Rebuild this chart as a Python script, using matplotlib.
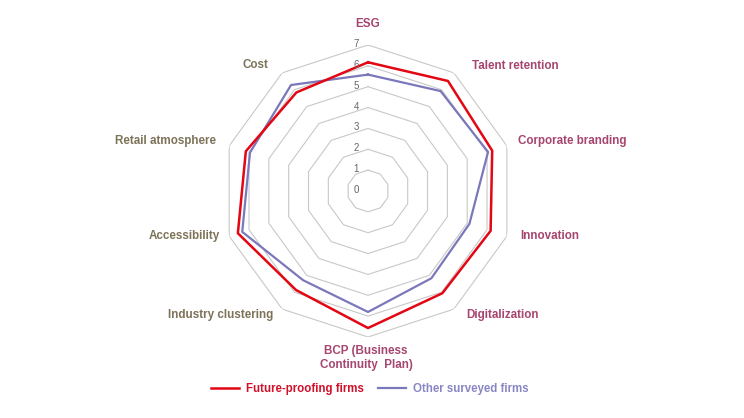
import numpy as np
import matplotlib.pyplot as plt

plt.rcParams['font.family'] = ['Liberation Sans', 'DejaVu Sans']

CATEGORIES = ["ESG", "Talent retention", "Corporate branding", "Innovation",
              "Digitalization", "BCP (Business\nContinuity  Plan)",
              "Industry clustering", "Accessibility", "Retail atmosphere", "Cost"]
FUTURE = [6.17, 6.52, 6.26, 6.18, 6.06, 6.57, 5.87, 6.56, 6.16, 5.84]
OTHER = [5.58, 5.92, 6.05, 5.11, 5.17, 5.80, 5.29, 6.34, 5.95, 6.28]
RINGS = [0, 1, 2, 3, 4, 5, 6, 7]

RED = "#e30613"
PURPLE = "#7b77bb"
MAUVE = "#a6456f"
OLIVE = "#7d7359"

# label offsets in pixels from the outer ring vertex, and alignment
LABEL_POS = [
  (0, 21, "center"), (18, 7, "left"), (11, 5, "left"), (13, 0, "left"),
  (12, -6, "left"), (-2, -21, "center"), (-9, -6, "right"), (-9, 0, "right"),
  (-13, 5, "right"), (-14, 8, "right"),
]
LABEL_COL = [MAUVE] * 6 + [OLIVE] * 4

fig = plt.figure(figsize=(7.44, 4.18), dpi=100)
ax = fig.add_axes([0.2984, 0.1938, 0.3925, 0.6986], projection="polar")
ax.set_theta_zero_location("N")
ax.set_theta_direction(-1)

n = len(CATEGORIES)
ang = np.linspace(0, 2 * np.pi, n, endpoint=False)
ang_c = np.append(ang, ang[0])

for r in RINGS[1:]:
  ax.plot(ang_c, [r] * (n + 1), color="#c8c8c8", lw=0.8, zorder=1)

ax.plot(ang_c, FUTURE + FUTURE[:1], color=RED, lw=1.8, zorder=3,
        label="Future-proofing firms")
ax.plot(ang_c, OTHER + OTHER[:1], color=PURPLE, lw=1.6, zorder=2,
        label="Other surveyed firms")

for r in RINGS:
  ax.annotate(str(r), xy=(0, r), xytext=(-12, 1), textcoords="offset pixels",
              ha="center", va="center", fontsize=7, color="#666666")

for a, lab, (dx, dy, ha), col in zip(ang, CATEGORIES, LABEL_POS, LABEL_COL):
  ax.annotate(lab, xy=(a, 7), xytext=(dx, dy), textcoords="offset pixels",
              ha=ha, va="center", fontsize=8.4, fontweight="bold", color=col,
              multialignment="center", annotation_clip=False)

ax.set_ylim(0, 7)
ax.set_xticks([])
ax.set_yticks([])
ax.grid(False)
ax.spines["polar"].set_visible(False)

leg = fig.legend(loc="center", bbox_to_anchor=(0.497, 0.069), ncol=2,
                 frameon=False, fontsize=8.3, handlelength=2.4,
                 columnspacing=1.3, handletextpad=0.6)
for t, c in zip(leg.get_texts(), ["#d0112b", "#8a86c4"]):
  t.set_color(c)
  t.set_fontweight("bold")

fig.savefig("out.png", dpi=100)
